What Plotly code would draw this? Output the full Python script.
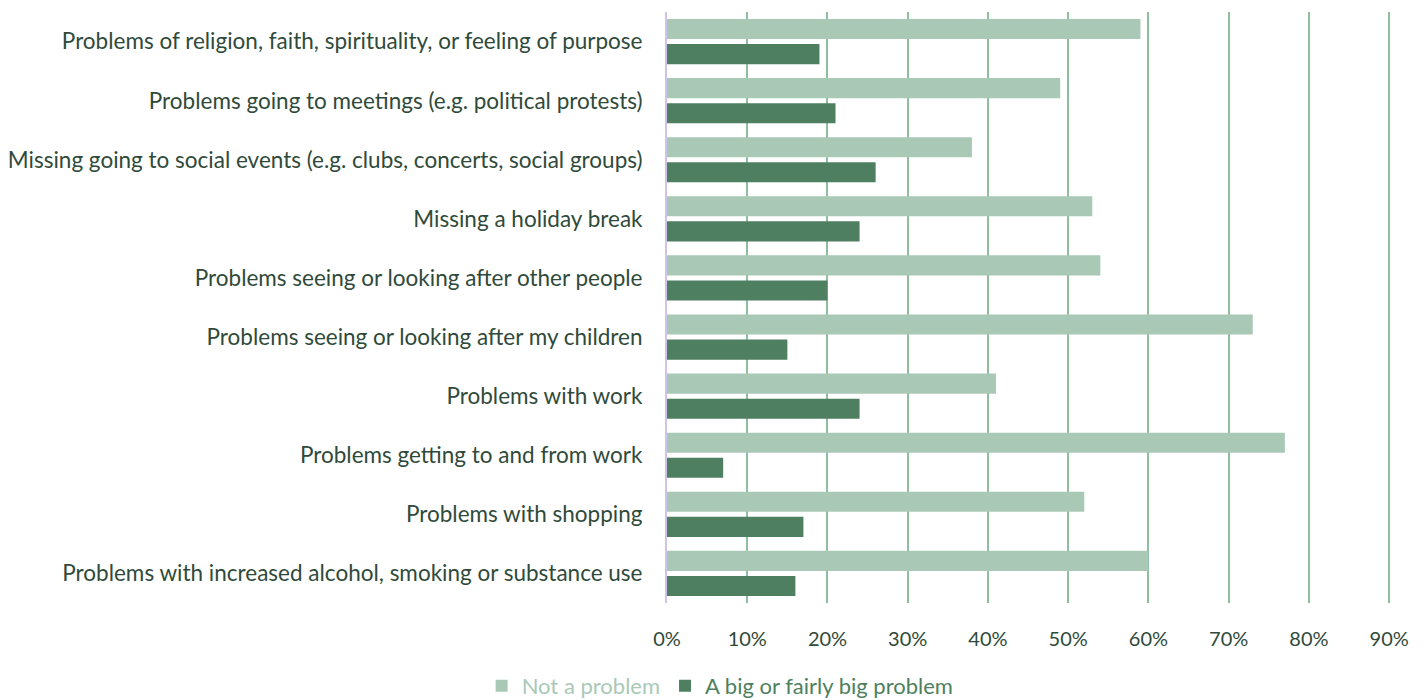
import plotly.graph_objects as go

categories = [
    "Problems of religion, faith, spirituality, or feeling of purpose",
    "Problems going to meetings (e.g. political protests)",
    "Missing going to social events (e.g. clubs, concerts, social groups)",
    "Missing a holiday break",
    "Problems seeing or looking after other people",
    "Problems seeing or looking after my children",
    "Problems with work",
    "Problems getting to and from work",
    "Problems with shopping",
    "Problems with increased alcohol, smoking or substance use",
]
not_a_problem = [59, 49, 38, 53, 54, 73, 41, 77, 52, 60]
big_problem = [19, 21, 26, 24, 20, 15, 24, 7, 17, 16]
tick_vals = [0, 10, 20, 30, 40, 50, 60, 70, 80, 90]
tick_text = ["0%", "10%", "20%", "30%", "40%", "50%", "60%", "70%", "80%", "90%"]

LIGHT = "#a9c9b6"
DARK = "#4e7f60"
TEXT = "#2f4a3a"
FONT = "Lato"

fig = go.Figure()
fig.add_trace(go.Bar(y=categories, x=not_a_problem, orientation="h",
                     name=f"<span style='color:{LIGHT}'>Not a problem</span>",
                     marker=dict(color=LIGHT, line=dict(width=0))))
fig.add_trace(go.Bar(y=categories, x=big_problem, orientation="h",
                     name=f"<span style='color:{DARK}'>A big or fairly big problem</span>",
                     marker=dict(color=DARK, line=dict(width=0))))

fig.update_layout(
    width=1426, height=700,
    margin=dict(l=667, r=34, t=12, b=97, autoexpand=False),
    paper_bgcolor="white", plot_bgcolor="white",
    barmode="group", bargap=0.15, bargroupgap=0.2,
    font=dict(family=FONT, size=21, color=TEXT),
    showlegend=True,
    legend=dict(orientation="h", x=0.505, xanchor="center", xref="container",
                y=0.02, yanchor="middle", yref="container",
                font=dict(size=22), traceorder="normal", itemwidth=30),
    xaxis=dict(range=[0, 90.35], tickvals=tick_vals, ticktext=tick_text,
               showgrid=True, gridcolor="#8dbf9f", gridwidth=2, zeroline=False,
               showline=False, ticks="", ticklabelstandoff=22,
               tickfont=dict(size=20, color=TEXT)),
    yaxis=dict(autorange="reversed", showgrid=False, showline=True,
               linecolor="#cfc3ea", linewidth=2, ticks="", ticklabelstandoff=18,
               tickfont=dict(size=22.5, color=TEXT)),
)

fig.write_html("out.html")
